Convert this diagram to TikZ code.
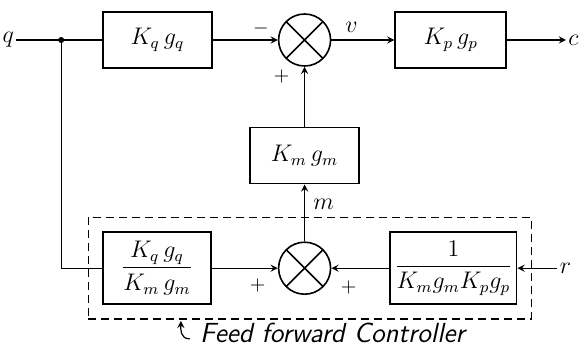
\documentclass[tikz,border=0pt]{standalone}
\usepackage{amsmath}
\usetikzlibrary{shapes,arrows,positioning,fit,calc}

\begin{document}
\begin{tikzpicture}[
  block/.style={rectangle,draw=black,thick,minimum width=54.5pt,minimum height=28pt,
                align=center,font=\large},
  fracblock/.style={block,minimum height=36pt,inner sep=2pt},
  summer/.style={circle,draw=black,thick,minimum size=26pt,inner sep=0pt,
                 path picture={\draw[thick]
                   (path picture bounding box.north west) -- (path picture bounding box.south east)
                   (path picture bounding box.north east) -- (path picture bounding box.south west);}},
  arrow/.style={->,>=stealth,semithick,black},
  line/.style={semithick,black},
  signal/.style={font=\large,inner sep=1pt},
  sign/.style={font=\normalsize,inner sep=0pt},
  caption/.style={font=\fontsize{13.8}{16}\selectfont\sffamily\itshape,inner sep=0pt}
]
\useasboundingbox (-78.75pt,20pt) rectangle (211.25pt,-154pt);

% ===== FORWARD PATH =====
\node[block] (kq) {$K_q\,g_q$};
\node[summer,right=32.5pt of kq] (sum1) {};
\node[block,right=31.5pt of sum1,minimum width=55.5pt] (kp) {$K_p\,g_p$};
\node[signal,right=29.5pt of kp] (c) {$c$};
\node[signal,left=43pt of kq] (q) {$q$};
\coordinate (split) at ($(kq.west)+(-20.5pt,0)$);
\fill (split) circle (1.5pt);

\draw[line] (q) -- (kq);
\draw[arrow] (kq) -- (sum1);
\draw[arrow] (sum1) -- (kp);
\draw[arrow] (kp) -- (c);

\node[sign] at ($(sum1.west)+(-8.5pt,5.5pt)$) {$-$};
\node[sign] at ($(sum1.center)+(-11.5pt,-18.5pt)$) {$+$};
\node[signal] at ($(sum1.east)+(10pt,6.5pt)$) {$v$};

% ===== FEEDBACK BLOCK =====
\node[block,below=30pt of sum1] (km) {$K_m\,g_m$};
\draw[arrow] (km) -- (sum1);

% ===== FEED FORWARD CONTROLLER =====
\node[summer,below=28.5pt of km] (sum2) {};
\node[fracblock,left=33pt of sum2,minimum width=54pt] (ffq) {$\dfrac{K_q\,g_q}{K_m\,g_m}$};
\node[fracblock,right=29pt of sum2,minimum width=59.5pt] (ffp) {$\dfrac{1}{K_m g_m K_p g_p}$};
\node[signal,right=20pt of ffp] (r) {$r$};

\node[draw=black,semithick,dash pattern=on 4pt off 2.5pt,fit=(ffq)(ffp),inner sep=7pt] (ff_box) {};
% caption below the dashed box
\node[caption,anchor=north west] (ff_label) at ($(ff_box.south)+(-55pt,-1.5pt)$) {Feed forward Controller};
\draw[arrow] ($(ff_label.west)+(-5pt,-3pt)$) .. controls +(-5pt,0) and +(0,-4pt) .. ($(ff_label.west)+(-9.5pt,6pt)$);

\draw[line] (split) |- (ffq);
\draw[arrow] (ffq) -- (sum2);
\draw[arrow] (ffp) -- (sum2);
\draw[arrow] (r) -- (ffp);
\draw[arrow] (sum2) -- (km);

\node[signal] at ($(km.south)+(9.5pt,-10pt)$) {$m$};
\node[sign] at ($(sum2.center)+(-23.5pt,-8.5pt)$) {$+$};
\node[sign] at ($(sum2.center)+(22pt,-9.5pt)$) {$+$};

\end{tikzpicture}
\end{document}
